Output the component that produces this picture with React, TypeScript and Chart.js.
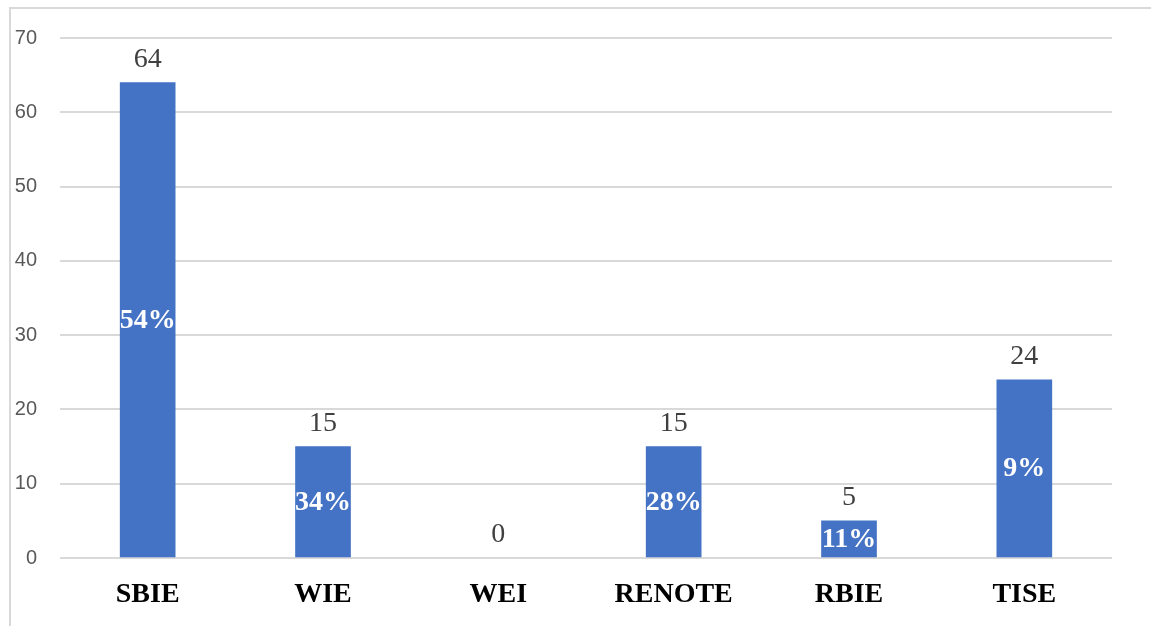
import React, { useEffect, useRef } from "react";
import { Chart, registerables } from "chart.js";

Chart.register(...registerables);

const categories = ["SBIE", "WIE", "WEI", "RENOTE", "RBIE", "TISE"];
const counts = [64, 15, 0, 15, 5, 24];
const percentLabels = ["54%", "34%", "", "28%", "11%", "9%"];
const yTicks = [0, 10, 20, 30, 40, 50, 60, 70];

const framePlugin = {
  id: "frame",
  beforeDraw(chart: any) {
    const ctx = chart.ctx;
    ctx.save();
    ctx.strokeStyle = "#d9d9d9";
    ctx.lineWidth = 2;
    ctx.beginPath();
    ctx.moveTo(10, chart.height);
    ctx.lineTo(10, 8);
    ctx.lineTo(chart.width, 8);
    ctx.stroke();
    ctx.restore();
  },
};

const labelPlugin = {
  id: "barLabels",
  afterDatasetsDraw(chart: any) {
    const ctx = chart.ctx;
    const meta = chart.getDatasetMeta(0);
    const yScale = chart.scales.y;
    ctx.save();
    ctx.textAlign = "center";
    meta.data.forEach((bar: any, i: number) => {
      const top = bar.y;
      const bottom = yScale.getPixelForValue(0);
      ctx.font = "28px 'Liberation Serif', 'Times New Roman', serif";
      ctx.fillStyle = "#404040";
      ctx.textBaseline = "alphabetic";
      ctx.fillText(String(counts[i]), bar.x, top - 16);
      if (percentLabels[i]) {
        ctx.font = "bold 28px 'Liberation Serif', 'Times New Roman', serif";
        ctx.fillStyle = "#ffffff";
        ctx.textBaseline = "middle";
        ctx.fillText(percentLabels[i], bar.x, (top + bottom) / 2);
      }
    });
    ctx.restore();
  },
};

export default function App() {
  const ref = useRef<HTMLCanvasElement>(null);
  useEffect(() => {
    if (!ref.current) return;
    const chart = new Chart(ref.current, {
      type: "bar",
      data: {
        labels: categories,
        datasets: [
          {
            data: counts,
            backgroundColor: counts.map((v) => (v === 0 ? "rgba(0,0,0,0)" : "#4472C4")),
            borderWidth: 0,
            barThickness: 55,
          },
        ],
      },
      options: {
        animation: false,
        responsive: false,
        layout: { padding: { left: 0, top: 38, right: 39, bottom: 0 } },
        plugins: { legend: { display: false }, tooltip: { enabled: false } },
        scales: {
          x: {
            grid: { display: false, drawTicks: false },
            border: { display: false },
            ticks: {
              padding: 20,
              color: "#000000",
              font: { family: "'Liberation Serif', 'Times New Roman', serif", size: 28, weight: "bold" },
            },
            afterFit(scale: any) {
              scale.height = 68;
            },
          },
          y: {
            min: 0,
            max: 70,
            afterBuildTicks(scale: any) {
              scale.ticks = yTicks.map((v) => ({ value: v }));
            },
            grid: { color: "#d9d9d9", lineWidth: 2, drawTicks: false },
            border: { display: false },
            ticks: {
              padding: 23,
              color: "#595959",
              font: { family: "'Liberation Sans', Arial, sans-serif", size: 20 },
            },
            afterFit(scale: any) {
              scale.width = 60;
            },
          },
        },
      },
      plugins: [framePlugin, labelPlugin],
    });
    return () => chart.destroy();
  }, []);
  return (
    <div style={{ position: "fixed", left: 0, top: 0, width: 1151, height: 626, background: "#fff" }}>
      <canvas ref={ref} width={1151} height={626} style={{ display: "block" }} />
    </div>
  );
}
